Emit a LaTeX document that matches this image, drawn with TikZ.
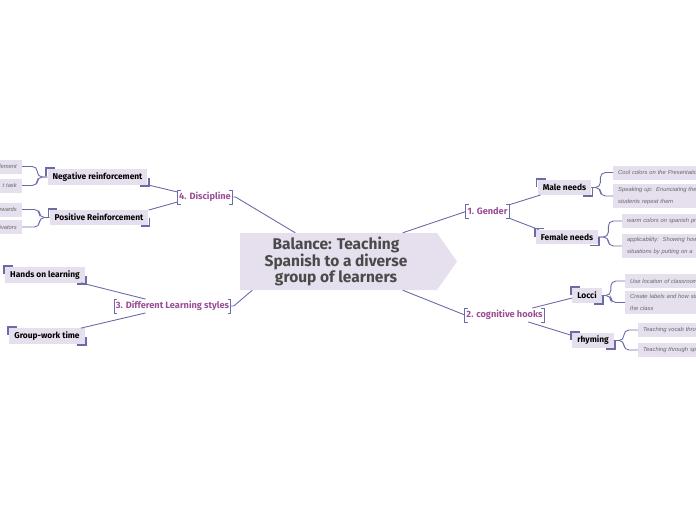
\documentclass[tikz,border=0pt]{standalone}
\usepackage{fontspec}
\setmainfont{Fira Sans}
\newfontfamily\leaffont{Liberation Sans}
\usetikzlibrary{positioning}

\definecolor{paleback}{HTML}{E6E0EE}
\definecolor{linkblue}{HTML}{6B6BAA}
\definecolor{topicpurple}{HTML}{9A4E98}
\definecolor{rootgray}{HTML}{4A4A4A}
\definecolor{leafgray}{HTML}{666666}

\begin{document}
\begin{tikzpicture}[x=1pt,y=-1pt,
  root/.style={minimum width=197pt,minimum height=57pt,align=center,text=rootgray,
    font=\fontsize{15.5}{15}\selectfont\bfseries},
  topic/.style={text=topicpurple,font=\fontsize{9.2}{10}\selectfont\bfseries,
    inner xsep=1.5pt,inner ysep=2pt,minimum height=13pt},
  sub/.style={fill=paleback,font=\fontsize{8.4}{9}\selectfont\bfseries,
    inner xsep=5pt,minimum height=14.5pt},
  leaf/.style={fill=paleback,text=leafgray,font=\leaffont\itshape\fontsize{5.8}{11.5}\selectfont,
    text width=110pt,inner xsep=5pt,minimum height=14pt},
  rleaf/.style={leaf,anchor=west,align=left},
  lleaf/.style={leaf,anchor=east,align=right},
  link/.style={linkblue,line width=0.9pt},
  corner/.style={linkblue,line width=1.8pt},
  brace/.style={link,rounded corners=5pt}]
  \clip (0,0) rectangle (696,520);

  % central idea
  \fill[paleback] (240,233) -- (437,233) -- (457,261.5) -- (437,290) -- (240,290) -- cycle;
  \node[root] (root) at (336,261.5) {Balance: Teaching\\Spanish to a diverse\\group of learners};

  % main topics
  \node[topic] (disc) at (205,197) {4. Discipline};
  \node[topic] (styles) at (172.5,306) {3. Different Learning styles};
  \node[topic] (gender) at (487.5,211.5) {1. Gender};
  \node[topic] (hooks) at (504.5,315) {2. cognitive hooks};

  % subtopics
  \node[sub] (neg) at (97.5,177) {Negative reinforcement};
  \node[sub] (pos) at (99,217.5) {Positive Reinforcement};
  \node[sub] (hands) at (45,275) {Hands on learning};
  \node[sub] (group) at (47,336) {Group-work time};
  \node[sub] (male) at (564.5,187.5) {Male needs};
  \node[sub] (female) at (567,237) {Female needs};
  \node[sub] (locci) at (587,295.5) {Locci};
  \node[sub] (rhyme) at (593,340.5) {rhyming};

  % leaves
  \node[lleaf] (dem) at (22,166.5) {dement};
  \node[lleaf] (task) at (22,185.5) {t task};
  \node[lleaf] (rew) at (22,209.5) {rewards};
  \node[lleaf] (motiv) at (22,227) {tivators};
  \node[rleaf] (cool) at (613,172.5) {Cool colors on the Presentation};
  \node[rleaf] (speak) at (613,196) {Speaking up:\ \ Enunciating the\\students repeat them};
  \node[rleaf] (warm) at (622,221) {warm colors on spanish pr};
  \node[rleaf] (apply) at (622,246) {applicability:\ \ Showing how\\situations by putting on a};
  \node[rleaf] (place) at (625,281) {Use location of classroom};
  \node[rleaf] (label) at (625,302.5) {Create labels and how sti\\the class};
  \node[rleaf] (vocab) at (638,330) {Teaching vocab thro};
  \node[rleaf] (song) at (638,350) {Teaching through spe};

  % links from the centre
  \draw[link] (disc.east) -- ++(3,0) -- ([xshift=58pt]root.north west);
  \draw[link] (styles.east) -- ++(3,0) -- ([xshift=15pt]root.south west);
  \draw[link] (gender.west) -- ([xshift=-32pt]root.north east);
  \draw[link] (hooks.west) -- ([xshift=-32pt]root.south east);

  % links to subtopics
  \draw[link] (neg.south east) -- ([yshift=5pt]disc.west);
  \draw[link] (pos.north east) -- ([yshift=-5pt]disc.west);
  \draw[link] ([xshift=-4pt]hands.south east) -- ([xshift=-27pt]styles.north);
  \draw[link] ([xshift=-4pt]group.north east) -- ([xshift=-27pt]styles.south);
  \draw[link] (gender.north east) -- ([xshift=3pt]male.south west);
  \draw[link] (gender.south east) -- ([xshift=3pt]female.north west);
  \draw[link] ([xshift=-12pt]hooks.north east) -- ([yshift=-2.5pt]locci.west);
  \draw[link] ([xshift=-16pt]hooks.south east) -- ([yshift=5pt]rhyme.west);

  % braces to leaves
  \foreach \s/\a/\b/\d in {neg/dem/task/-10,pos/rew/motiv/-10} {
    \draw[brace] (\s.west) -- ++(\d,0) |- (\a.east);
    \draw[brace] (\s.west) -- ++(\d,0) |- (\b.east);
  }
  \foreach \s/\a/\b/\d in {male/cool/speak/9,female/warm/apply/10,locci/place/label/9,rhyme/vocab/song/10} {
    \draw[brace] (\s.east) -- ++(\d,0) |- (\a.west);
    \draw[brace] (\s.east) -- ++(\d,0) |- (\b.west);
  }

  % brackets round the main topics
  \foreach \n in {disc,styles,gender,hooks} {
    \draw[link] ([xshift=3pt]\n.north west) -- (\n.north west) -- (\n.south west) -- ([xshift=3pt]\n.south west);
    \draw[link] ([xshift=-3pt]\n.north east) -- (\n.north east) -- (\n.south east) -- ([xshift=-3pt]\n.south east);
  }

  % corner marks on the subtopics
  \foreach \n in {neg,pos,hands,group,male,female,locci,rhyme} {
    \draw[corner] ([xshift=-1pt,yshift=-7pt]\n.north west) |- ([xshift=8pt,yshift=1pt]\n.north west);
    \draw[corner] ([xshift=1pt,yshift=7pt]\n.south east) |- ([xshift=-8pt,yshift=-1pt]\n.south east);
  }
\end{tikzpicture}
\end{document}
